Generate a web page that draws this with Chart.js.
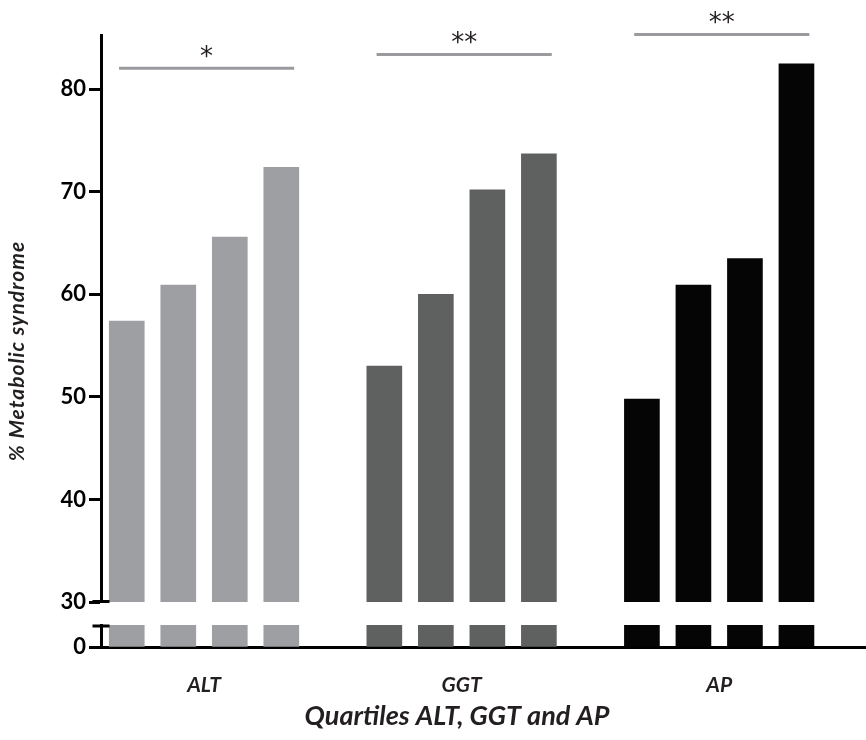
<!DOCTYPE html>
<html>
<head>
<meta charset="utf-8">
<title>% Metabolic syndrome by quartiles of ALT, GGT and AP</title>
<script src="https://cdn.jsdelivr.net/npm/chart.js@4.4.1/dist/chart.umd.min.js"></script>
<style>
  html, body { margin: 0; padding: 0; background: #fff; }
  #wrap { width: 866px; height: 740px; position: relative; }
</style>
</head>
<body>
<div id="wrap"><canvas id="chart"></canvas></div>
<script>
// Marker groups and the share (%) with metabolic syndrome in quartiles Q1..Q4
const categories = ['ALT', 'GGT', 'AP'];
const quartiles = ['Q1', 'Q2', 'Q3', 'Q4'];
const altValues = [57.4, 60.9, 65.6, 72.4];
const ggtValues = [53.0, 60.0, 70.2, 73.7];
const apValues = [49.8, 60.9, 63.5, 82.5];
const significance = ['*', '**', '**'];
const upperTicks = [30, 40, 50, 60, 70, 80];
const lowerTicks = [0];

const groupValues = [altValues, ggtValues, apValues];
const groupColors = ['#9e9fa2', '#5f6160', '#050505'];
const GROUP_STEP = 5; // four quartile slots plus one empty slot between groups
const AXIS_W = 101;
const FONT = 'Lato, "Open Sans", sans-serif';

const points = [];
const colors = [];
groupValues.forEach((vals, g) => {
  vals.forEach((v, q) => {
    points.push({ x: g * GROUP_STEP + q, y: v, q: quartiles[q] });
    colors.push(groupColors[g]);
  });
});

// Each dataset is clipped to the band of its own y axis, so the upper band
// shows 30..max and the lower band shows the stub above 0.
const brokenAxis = {
  id: 'brokenAxis',
  beforeDatasetDraw(chart, args) {
    const ys = chart.scales[args.meta.yAxisID];
    const a = chart.chartArea;
    const ctx = chart.ctx;
    ctx.save();
    ctx.beginPath();
    ctx.rect(a.left, ys.top, a.right - a.left, ys.bottom - ys.top);
    ctx.clip();
  },
  afterDatasetDraw(chart) {
    chart.ctx.restore();
  },
  afterDraw(chart, args, opts) {
    const ctx = chart.ctx;
    const up = chart.scales.y;
    const low = chart.scales.yLow;
    const x0 = chart.chartArea.left;
    ctx.save();
    ctx.strokeStyle = '#000';
    ctx.lineWidth = 3;
    ctx.beginPath();
    ctx.moveTo(x0 - opts.cap, up.bottom - 0.5);
    ctx.lineTo(x0 + opts.cap, up.bottom - 0.5);
    ctx.moveTo(x0 - opts.cap, low.top + 1);
    ctx.lineTo(x0 + opts.cap, low.top + 1);
    ctx.stroke();

    // axis titles
    ctx.fillStyle = '#231f20';
    ctx.textAlign = 'center';
    ctx.textBaseline = 'middle';
    ctx.font = 'italic bold 21px ' + FONT;
    ctx.save();
    ctx.translate(opts.yTitle.x, opts.yTitle.y);
    ctx.rotate(-Math.PI / 2);
    if ('letterSpacing' in ctx) ctx.letterSpacing = '1px';
    ctx.fillText(opts.yTitle.text, 0, 0);
    ctx.restore();
    ctx.font = 'italic bold 27px ' + FONT;
    ctx.textBaseline = 'alphabetic';
    ctx.fillText(opts.xTitle.text, opts.xTitle.x, opts.xTitle.y);
    ctx.restore();
  }
};

// Significance brackets above each marker group
const significanceBars = {
  id: 'significanceBars',
  afterDraw(chart, args, opts) {
    const ctx = chart.ctx;
    const xs = chart.scales.x;
    const ys = chart.scales.y;
    ctx.save();
    opts.labels.forEach((label, g) => {
      const x1 = xs.getPixelForValue(g * GROUP_STEP + opts.span[0]);
      const x2 = xs.getPixelForValue(g * GROUP_STEP + opts.span[1]);
      const y = ys.getPixelForValue(opts.levels[g]);
      ctx.strokeStyle = '#9b9b9f';
      ctx.lineWidth = 3;
      ctx.beginPath();
      ctx.moveTo(x1, y);
      ctx.lineTo(x2, y);
      ctx.stroke();
      ctx.fillStyle = '#231f20';
      ctx.font = '26px "DejaVu Sans", sans-serif';
      ctx.textAlign = 'center';
      ctx.textBaseline = 'alphabetic';
      ctx.fillText(label, (x1 + x2) / 2, y + opts.textOffset);
    });
    ctx.restore();
  }
};

const yCommon = {
  type: 'linear',
  position: 'left',
  stack: 'broken',
  grid: { drawOnChartArea: false, drawTicks: true, tickLength: 12, tickWidth: 3, tickColor: '#000' },
  border: { display: true, width: 3, color: '#000' },
  ticks: { color: '#000', font: { family: FONT, size: 22, weight: 'bold' }, padding: 3 },
  afterFit(s) { s.width = AXIS_W; }
};

new Chart(document.getElementById('chart'), {
  type: 'bar',
  data: {
    datasets: [
      { label: 'upper', data: points, yAxisID: 'y', xAxisID: 'x', backgroundColor: colors,
        barThickness: 35, grouped: false, borderWidth: 0 },
      { label: 'lower', data: points, yAxisID: 'yLow', xAxisID: 'x', backgroundColor: colors,
        barThickness: 35, grouped: false, borderWidth: 0 }
    ]
  },
  options: {
    responsive: true,
    maintainAspectRatio: false,
    animation: false,
    layout: { padding: { top: 35, left: 0, right: 0, bottom: 0 } },
    plugins: {
      legend: { display: false },
      tooltip: { enabled: false },
      brokenAxis: {
        cap: 8.5,
        yTitle: { text: '% Metabolic syndrome', x: 17, y: 351 },
        xTitle: { text: 'Quartiles ALT, GGT and AP', x: 457, y: 725 }
      },
      significanceBars: { labels: significance, levels: [82.05, 83.4, 85.35], span: [-0.15, 3.25], textOffset: -3 }
    },
    scales: {
      // stacked axes are laid out bottom-up in the order they are listed
      yLow: Object.assign({}, yCommon, {
        min: 0, max: 3, stackWeight: 22,
        afterBuildTicks(s) { s.ticks = lowerTicks.map(v => ({ value: v })); }
      }),
      yGap: {
        type: 'linear', position: 'left', stack: 'broken', stackWeight: 23,
        min: 0, max: 1,
        grid: { display: false, drawTicks: false },
        border: { display: false },
        ticks: { display: false },
        afterFit(s) { s.width = AXIS_W; }
      },
      y: Object.assign({}, yCommon, {
        min: 30, max: 85.3, stackWeight: 567,
        afterBuildTicks(s) { s.ticks = upperTicks.map(v => ({ value: v })); }
      }),
      x: {
        type: 'linear', position: 'bottom', min: -0.5, max: 14.35,
        offset: false,
        grid: { display: false, drawTicks: false, offset: false },
        border: { display: true, width: 3, color: '#000' },
        ticks: {
          color: '#231f20',
          font: { family: FONT, size: 21, weight: 'bold', style: 'italic' },
          padding: 26,
          callback: (v, i) => categories[i]
        },
        afterBuildTicks(s) { s.ticks = categories.map((c, g) => ({ value: g * GROUP_STEP + 1.5 })); },
        afterFit(s) { s.height = 93; }
      }
    }
  },
  plugins: [brokenAxis, significanceBars]
});
</script>
</body>
</html>
